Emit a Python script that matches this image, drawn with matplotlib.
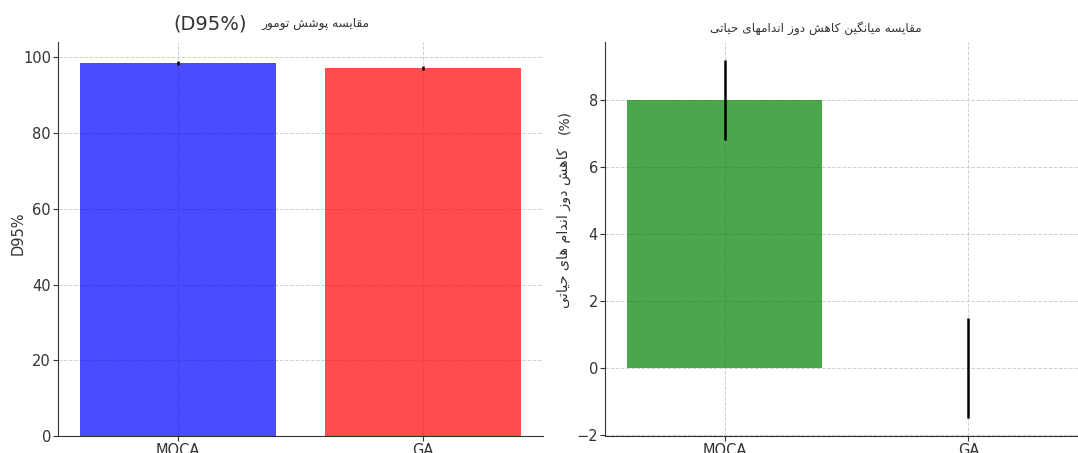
import matplotlib
matplotlib.use("Agg")
import matplotlib.pyplot as plt

# data
methods = ["MOCA", "GA"]
d95_mean = [98.6, 97.1]
d95_err = [0.5, 0.5]
oar_mean = [8.0, 0.0]
oar_err = [1.2, 1.5]

title_left = "مقایسه پوشش تومور"
title_left_tag = "(D95%)"
title_right = "مقایسه میانگین کاهش دوز اندامهای حیاتی"
ylabel_left = "D95%"
ylabel_right = "کاهش دوز اندام های حیاتی"
ylabel_right_tag = "(%)"

# contextual forms: isolated, final, initial, medial
FORMS = {
    'ا': ('\uFE8D', '\uFE8E', None, None),
    'ت': ('\uFE95', '\uFE96', '\uFE97', '\uFE98'),
    'ح': ('\uFEA1', '\uFEA2', '\uFEA3', '\uFEA4'),
    'د': ('\uFEA9', '\uFEAA', None, None),
    'ر': ('\uFEAD', '\uFEAE', None, None),
    'ز': ('\uFEAF', '\uFEB0', None, None),
    'س': ('\uFEB1', '\uFEB2', '\uFEB3', '\uFEB4'),
    'ش': ('\uFEB5', '\uFEB6', '\uFEB7', '\uFEB8'),
    'ق': ('\uFED5', '\uFED6', '\uFED7', '\uFED8'),
    'م': ('\uFEE1', '\uFEE2', '\uFEE3', '\uFEE4'),
    'ن': ('\uFEE5', '\uFEE6', '\uFEE7', '\uFEE8'),
    'ه': ('\uFEE9', '\uFEEA', '\uFEEB', '\uFEEC'),
    'و': ('\uFEED', '\uFEEE', None, None),
    'پ': ('\uFB56', '\uFB57', '\uFB58', '\uFB59'),
    'ک': ('\uFB8E', '\uFB8F', '\uFB90', '\uFB91'),
    'گ': ('\uFB92', '\uFB93', '\uFB94', '\uFB95'),
    'ی': ('\uFBFC', '\uFBFD', '\uFBFE', '\uFBFF'),
}


def shape(text):
    # join letters and return them in visual (left to right) order
    out = []
    for i, ch in enumerate(text):
        if ch not in FORMS:
            out.append(ch)
            continue
        prev = text[i - 1] if i > 0 else None
        nxt = text[i + 1] if i + 1 < len(text) else None
        join_prev = prev in FORMS and FORMS[prev][2] is not None
        join_next = nxt in FORMS and FORMS[ch][2] is not None
        iso, fin, ini, med = FORMS[ch]
        if join_prev and join_next:
            out.append(med)
        elif join_prev:
            out.append(fin)
        elif join_next:
            out.append(ini)
        else:
            out.append(iso)
    return "".join(out)[::-1]


plt.rcParams['font.family'] = ['DejaVu Sans']

W, H = 1078, 453
fig = plt.figure(figsize=(W / 100, H / 100), dpi=100)


def px(x, y):
    return x / W, 1 - y / H


ax1 = fig.add_axes([58 / W, 17 / H, 485 / W, 394 / H])
ax2 = fig.add_axes([605 / W, 17 / H, 483 / W, 394 / H])

ax1.bar(methods, d95_mean, yerr=d95_err, width=0.8, color=["blue", "red"], alpha=0.7,
        error_kw=dict(ecolor="black", lw=1.8, capsize=0))
ax2.bar(methods, oar_mean, yerr=oar_err, width=0.8, color=["green", "white"], alpha=0.7,
        error_kw=dict(ecolor="black", lw=1.8, capsize=0))

for ax in (ax1, ax2):
    ax.grid(True, linestyle="--", color="#d0d0d0", linewidth=0.7)
    ax.set_axisbelow(True)
    ax.spines["top"].set_visible(False)
    ax.spines["right"].set_visible(False)
    for s in ("left", "bottom"):
        ax.spines[s].set_color("#333333")
    ax.tick_params(labelsize=10.5, colors="#333333", length=3.5, pad=1.5)

ax1.set_yticks([0, 20, 40, 60, 80, 100])
ax2.set_yticks([-2, 0, 2, 4, 6, 8])

ax1.set_ylabel(ylabel_left, fontsize=10.5, color="#333333")
ax1.yaxis.set_label_coords(-0.066, 0.515)

fig.text(*px(210, 24), title_left_tag, fontsize=14, ha="center", va="center", color="#333333")
fig.text(*px(315, 24), shape(title_left), fontsize=8.7, ha="center", va="center", color="#333333")
fig.text(*px(816, 28), shape(title_right), fontsize=8.7, ha="center", va="center", color="#333333")

fig.text(*px(564, 228), shape(ylabel_right), fontsize=10.3, ha="center", va="center",
         rotation=90, color="#333333")
fig.text(*px(564, 122), ylabel_right_tag, fontsize=10, ha="center", va="center",
         rotation=90, color="#333333")

fig.savefig("out.png", dpi=100)
